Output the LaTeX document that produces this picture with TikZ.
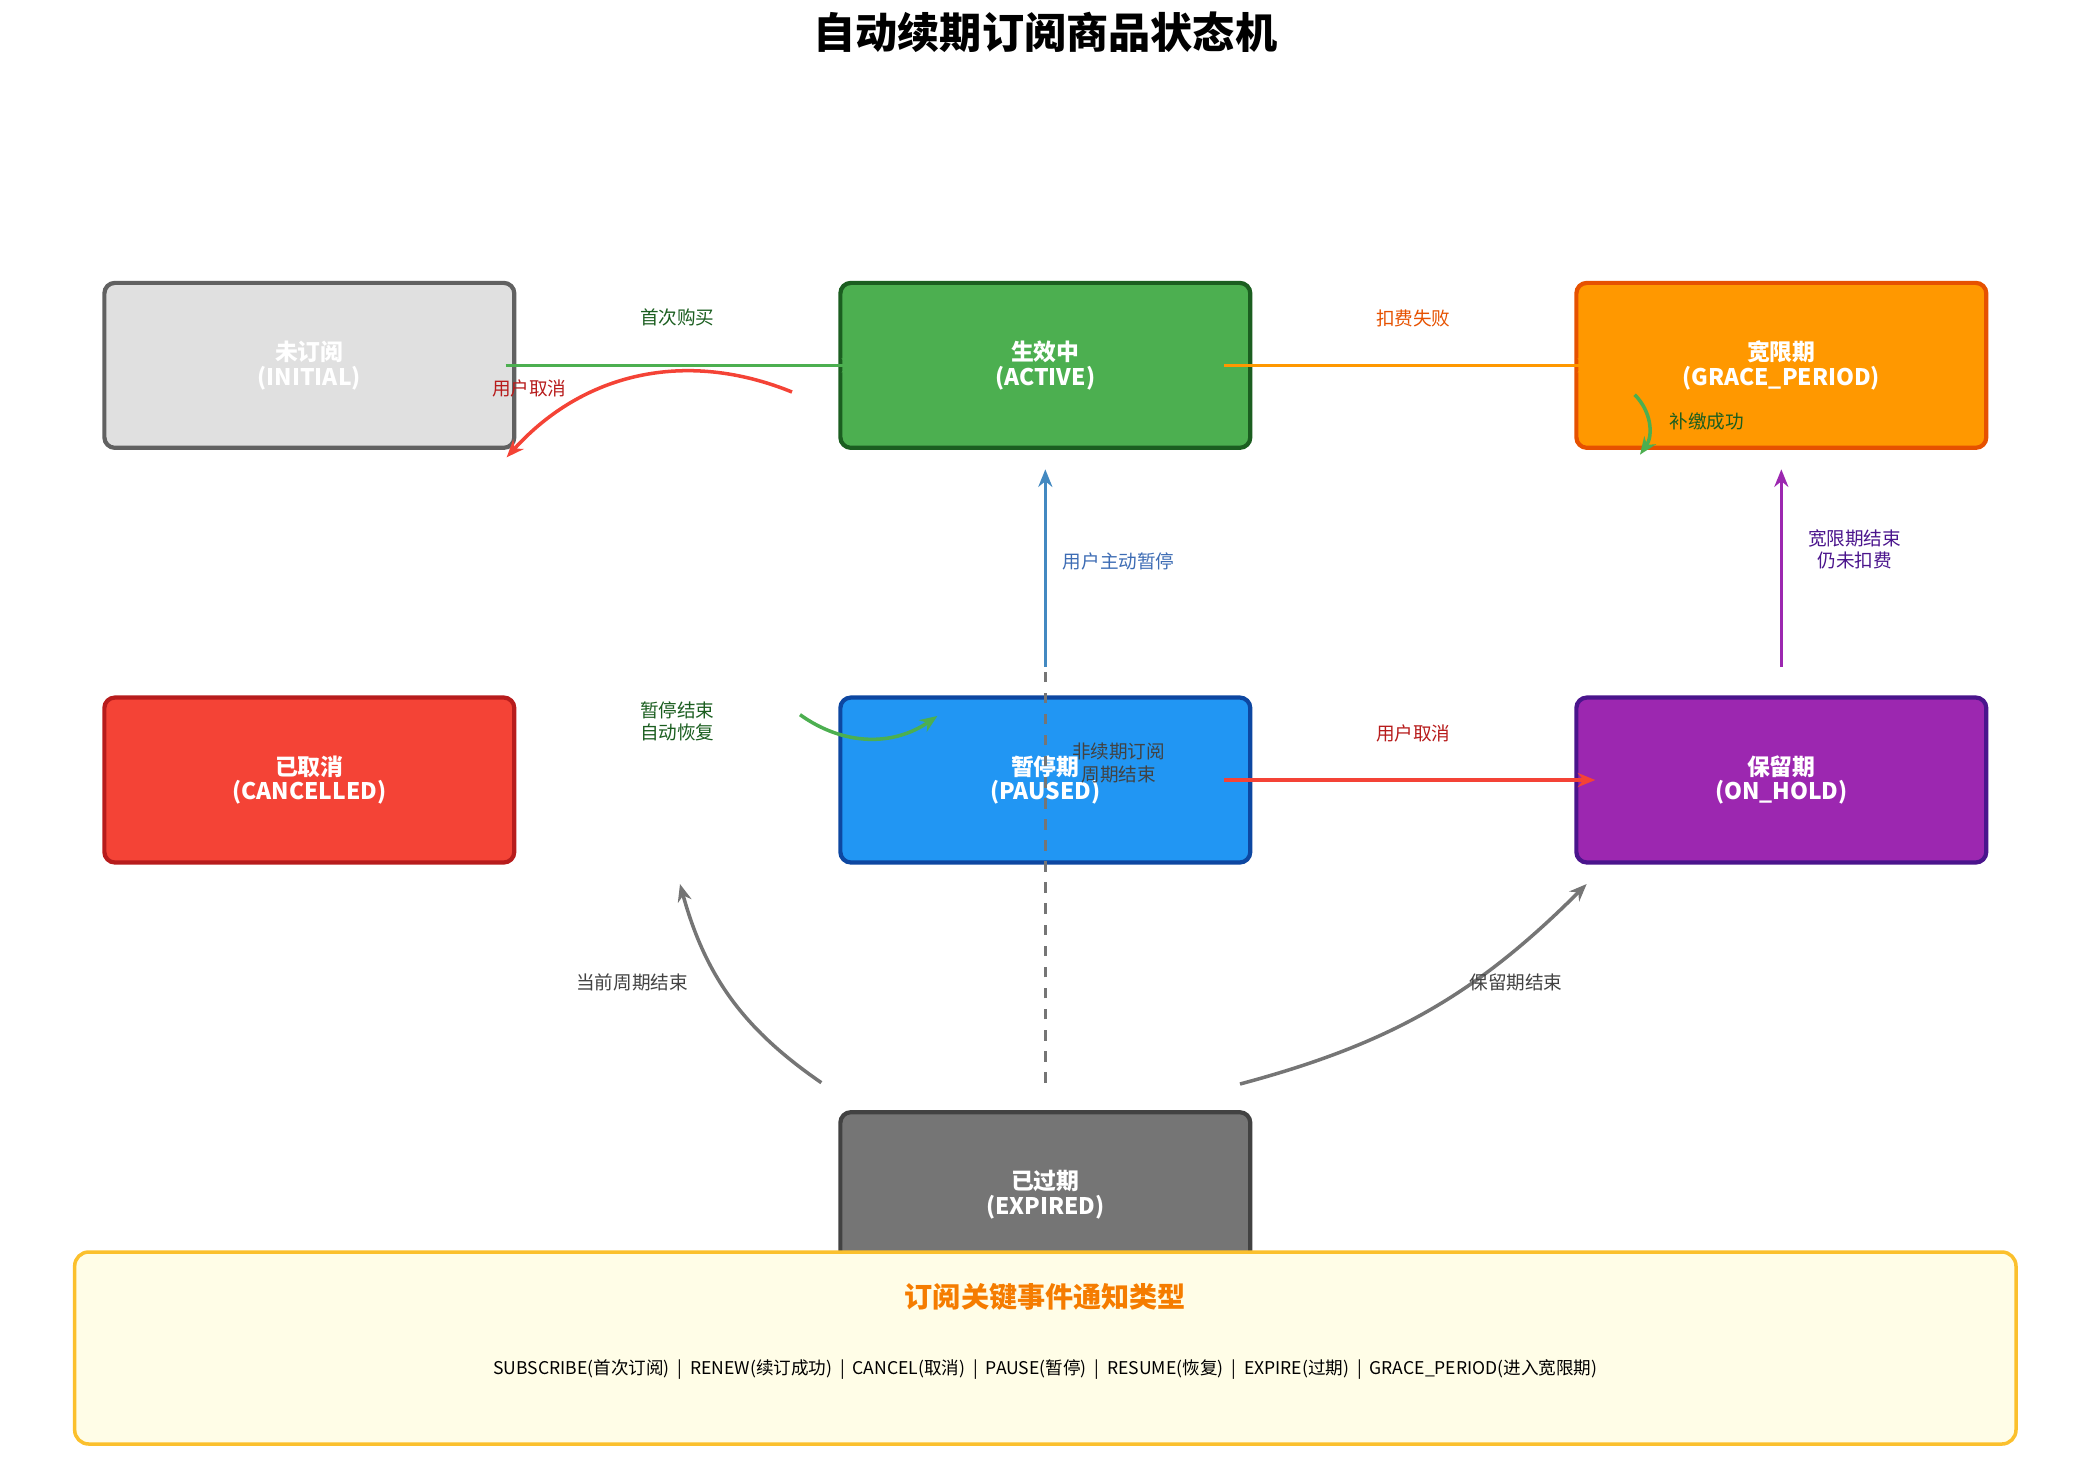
\documentclass[tikz,border=0pt]{standalone}
\usepackage{fontspec}
\setmainfont{Noto Sans CJK SC}
\usetikzlibrary{arrows.meta}
\definecolor{initF}{HTML}{E0E0E0}\definecolor{initD}{HTML}{616161}
\definecolor{actF}{HTML}{4CAF50}\definecolor{actD}{HTML}{1B5E20}
\definecolor{graF}{HTML}{FF9800}\definecolor{graD}{HTML}{E65100}
\definecolor{canF}{HTML}{F44336}\definecolor{canD}{HTML}{B71C1C}
\definecolor{pauF}{HTML}{2196F3}\definecolor{pauD}{HTML}{0D47A1}
\definecolor{holF}{HTML}{9C27B0}\definecolor{holD}{HTML}{4A148C}
\definecolor{expF}{HTML}{757575}\definecolor{expD}{HTML}{424242}
\definecolor{legF}{HTML}{FFFDE7}\definecolor{legD}{HTML}{FBC02D}
\definecolor{legT}{HTML}{F57C00}
\tikzset{
  state/.style={draw=#1D,fill=#1F,line width=1.2pt,rounded corners=3pt,
    minimum width=4.1cm,minimum height=1.65cm,text=white,align=center,
    font=\fontsize{6.5}{7}\selectfont\bfseries},
  lab/.style={font=\fontsize{5.3}{6.5}\selectfont,align=center},
  tr/.style={line width=1pt,-{Stealth[length=5pt,width=4pt]}}
}
\begin{document}
\begin{tikzpicture}[x=0.013333cm,y=-0.013333cm]
  \useasboundingbox (0,0) rectangle (1560,1110);
  \node[font=\fontsize{12}{14}\selectfont\bfseries] (title) at (784,24) {自动续期订阅商品状态机};
  \node[state=init,text=white] (initial) at (232,274) {未订阅\\(INITIAL)};
  \node[state=act] (active) at (784,274) {生效中\\(ACTIVE)};
  \node[state=gra] (grace) at (1336,274) {宽限期\\(GRACE\_PERIOD)};
  \node[state=can] (cancelled) at (232,585) {已取消\\(CANCELLED)};
  \node[state=pau] (paused) at (784,585) {暂停期\\(PAUSED)};
  \node[state=hol] (onhold) at (1336,585) {保留期\\(ON\_HOLD)};
  \node[state=exp] (expired) at (784,896) {已过期\\(EXPIRED)};
  % transitions
  \draw[tr,actF] (initial.east)++(-8,0) coordinate (a1) -- ([xshift=6]active.west);
  \node[lab,text=actD] (l1) at (508,238) {首次购买};
  \coordinate (c1) at (594,294); \coordinate (c2) at (380,343);
  \draw[tr,canF] (c1) to[bend right=35] (c2);
  \node[lab,text=canD] (l2) at (397,291) {用户取消};
  \draw[tr,graF] ([xshift=-8]active.east) -- ([xshift=6]grace.west);
  \node[lab,text=graD] (l3) at (1060,239) {扣费失败};
  \coordinate (c3) at (1226,296); \coordinate (c4) at (1230,341);
  \draw[tr,actF] (c3) to[bend left=40] (c4);
  \node[lab,text=actD] (l4) at (1280,316) {补缴成功};
  \coordinate (c5) at (784,812); \coordinate (c6) at (784,352); \coordinate (c7) at (784,500);
  \draw[line width=1pt,expF,dashed] (c5) -- (c7);
  \draw[tr,pauF!60!expF] (c7) -- (c6);
  \node[lab,text=pauD!80!white] (l5) at (839,421) {用户主动暂停};
  \node[lab,text=expD] (l6) at (839,572) {非续期订阅\\周期结束};
  \coordinate (c8) at (1336,500); \coordinate (c9) at (1336,352);
  \draw[tr,holF] (c8) -- (c9);
  \node[lab,text=holD] (l7) at (1391,412) {宽限期结束\\仍未扣费};
  \coordinate (c10) at (600,536); \coordinate (c11) at (703,537);
  \draw[tr,actF] (c10) to[bend right=35] (c11);
  \node[lab,text=actD] (l8) at (508,541) {暂停结束\\自动恢复};
  \draw[tr,canF] ([xshift=-8]paused.east) -- ([xshift=6]onhold.west);
  \node[lab,text=canD] (l9) at (1060,550) {用户取消};
  \coordinate (c12) at (616,812); \coordinate (c13) at (510,663);
  \draw[tr,expF] (c12) to[bend left=20] (c13);
  \node[lab,text=expD] (l10) at (474,737) {当前周期结束};
  \coordinate (c14) at (930,813); \coordinate (c15) at (1190,663);
  \draw[tr,expF] (c14) to[bend right=15] (c15);
  \node[lab,text=expD] (l11) at (1137,737) {保留期结束};
  % legend
  \draw[legD,fill=legF,line width=1pt,rounded corners=4pt] (56,939) rectangle (1512,1083);
  \node[font=\fontsize{8}{9}\selectfont\bfseries,text=legT] (legtitle) at (784,973) {订阅关键事件通知类型};
  \node[font=\fontsize{5}{6}\selectfont] (legtext) at (784,1027)
    {SUBSCRIBE(首次订阅)\ \ |\ \ RENEW(续订成功)\ \ |\ \ CANCEL(取消)\ \ |\ \ PAUSE(暂停)\ \ |\ \ RESUME(恢复)\ \ |\ \ EXPIRE(过期)\ \ |\ \ GRACE\_PERIOD(进入宽限期)};
\end{tikzpicture}
\end{document}
